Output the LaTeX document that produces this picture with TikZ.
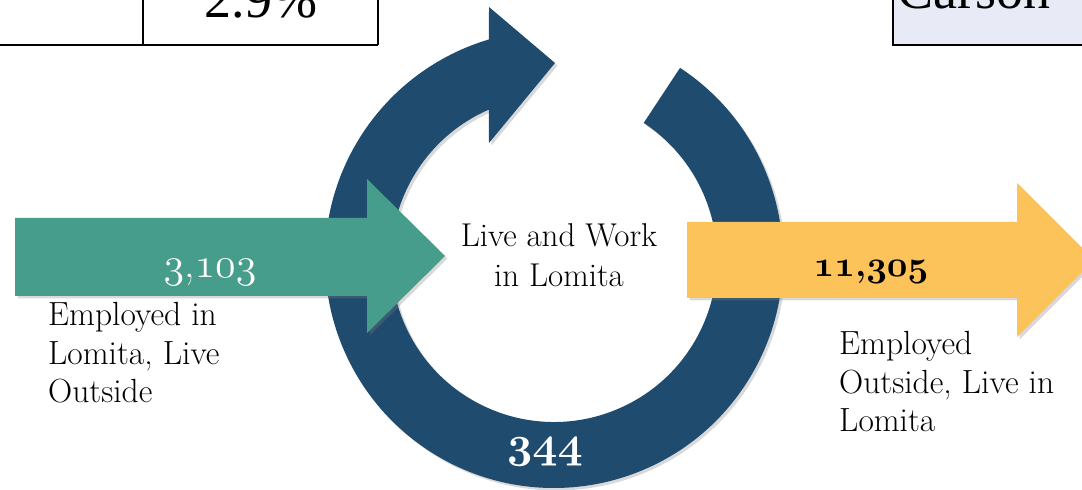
\RequirePackage{fix-cm}
\documentclass[tikz,border=0pt]{standalone}
\usepackage{fontspec}
\newfontfamily\timesfont{Liberation Serif}
\usetikzlibrary{calc,shadows}
\definecolor{ringblue}{HTML}{1F4B6E}
\definecolor{tealarrow}{HTML}{479D8B}
\definecolor{yellowarrow}{HTML}{FDC35B}
\definecolor{lavender}{HTML}{E8EAF5}
\newcommand\osfnum[1]{{\usefont{OML}{cmm}{m}{it}#1}}
\newcommand\osfbnum[1]{{\usefont{OML}{cmm}{b}{it}#1}}
\begin{document}
\begin{tikzpicture}[x=1pt,y=1pt,
  shade/.style={drop shadow={shadow xshift=2.5pt,shadow yshift=-2.5pt,opacity=.3}},
  tableline/.style={line width=2.2pt},
  label/.style={inner sep=0pt, font=\fontsize{33.5}{38.5}\selectfont},
  bigserif/.style={inner sep=0pt, font=\timesfont\fontsize{54}{60}\selectfont}]
\useasboundingbox (0,0) rectangle (1082,490);
\clip (0,0) rectangle (1082,490);
% partial table at the top
\draw[tableline] (-5,445) -- (378,445);
\draw[tableline] (143,445) -- (143,495);
\draw[tableline] (378,445) -- (378,495);
\node[bigserif, anchor=base] (pct) at (261,472) {2.9\%};
\filldraw[tableline, fill=lavender] (893,445) rectangle (1100,500);
\node[bigserif, anchor=base west] (carson) at (897,481) {Carson};
% circular arrow
\coordinate (c) at (554,231);
\fill[ringblue, shade] ($(c)+(56.6:229)$) arc[start angle=56.6, end angle=-253.5, radius=229]
  -- (489,483) -- (555,427) -- (489,347) -- ($(c)+(113.6:163)$)
  arc[start angle=-246.4, end angle=56.6, radius=163] -- cycle;
% incoming arrow
\fill[tealarrow, shade] (15,272) -- (367,272) -- (367,311) -- (445,234) -- (367,157) -- (367,194) -- (15,194) -- cycle;
% outgoing arrow
\fill[yellowarrow, shade] (687,268) -- (1017,268) -- (1017,307) -- (1094,230) -- (1017,153) -- (1017,192) -- (687,192) -- cycle;
% numbers
\node[inner sep=0pt, anchor=base, text=white, font=\fontsize{42}{50}\selectfont] (in) at (210,212) {\osfnum{3},\osfnum{103}};
\node[inner sep=0pt, anchor=base, text=black, font=\bfseries\fontsize{36}{44}\selectfont] (out) at (871,213) {\osfbnum{11},\osfbnum{305}};
\node[inner sep=0pt, anchor=base, text=white, font=\bfseries\fontsize{44}{50}\selectfont] (both) at (545,32) {\osfbnum{344}};
% labels (base anchor = baseline of the last line)
\node[label, font=\fontsize{33}{40}\selectfont, align=center, anchor=base] (center) at (559,203) {Live and Work\\in Lomita};
\node[label, align=left, anchor=base west] (left) at (48,87) {Employed in\\Lomita, Live\\Outside};
\node[label, align=left, anchor=base west] (right) at (839,58) {Employed\\Outside, Live in\\Lomita};
\end{tikzpicture}
\end{document}
